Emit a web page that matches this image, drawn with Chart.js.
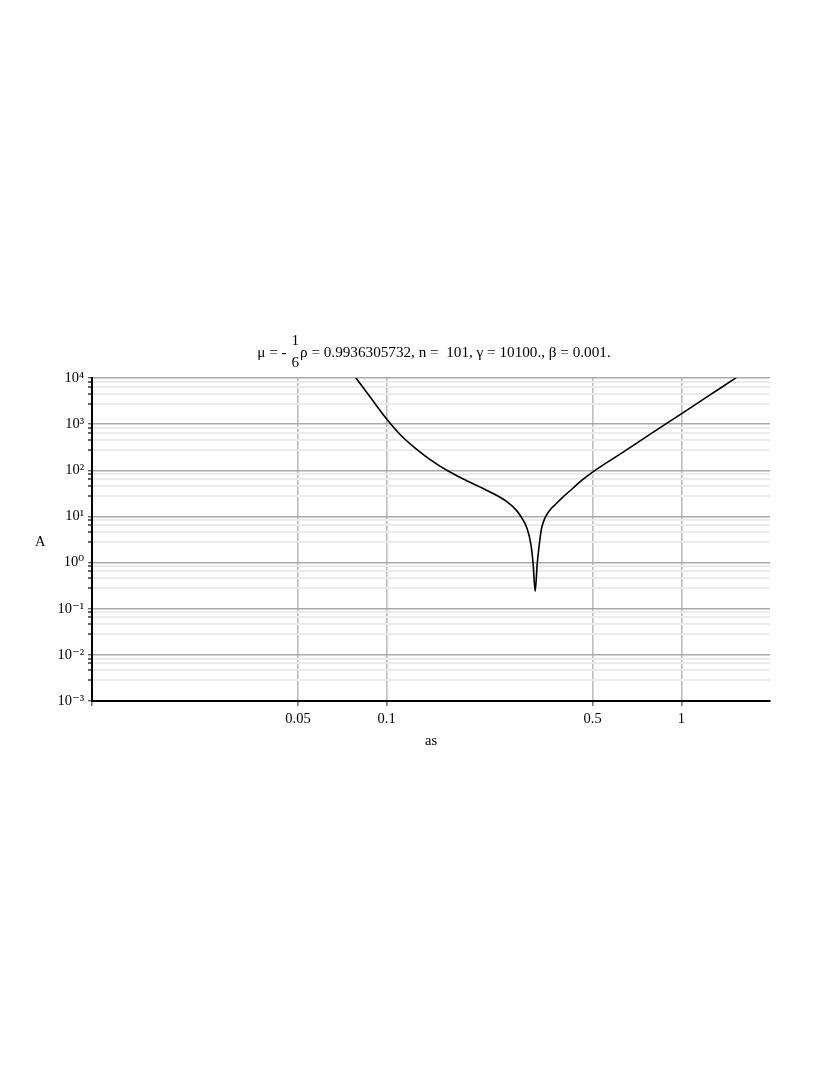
<!DOCTYPE html>
<html>
<head>
<meta charset="utf-8">
<script src="https://cdn.jsdelivr.net/npm/chart.js@4"></script>
<style>
  html, body { margin: 0; padding: 0; background: #fff; }
  body { width: 830px; height: 1075px; position: relative; overflow: hidden;
         font-family: "Liberation Serif", "DejaVu Serif", serif; color: #000; }
  #wrap { position: absolute; left: 0; top: 0; width: 830px; height: 1075px; }
  #title { position: absolute; left: 0; width: 868px; top: 332px; text-align: center;
           font-size: 15.2px; white-space: pre; line-height: 1; color: #000;
           will-change: transform; }
  .frac { display: inline-block; vertical-align: middle; text-align: center; line-height: 1.42;
          margin: 0 1px; position: relative; top: -3px; }
  .frac span { display: block; }
  #ylab { position: absolute; left: 35px; top: 533px; font-size: 14.5px; color: #000;
          will-change: transform; }
</style>
</head>
<body>
<div id="title">μ = - <span class="frac"><span>1</span><span>6</span></span>ρ = 0.9936305732, n =  101, γ = 10100., β = 0.001.</div>
<div id="ylab">A</div>
<div id="wrap"><canvas id="plot" width="830" height="1075"></canvas></div>

<script>
// values (as -> A), left branch down to the dip, then right branch
const asValues = [
    0.0700, 0.0787, 0.0869, 0.100, 0.1117, 0.1250, 0.1413, 0.160, 0.182, 0.207,
    0.2307, 0.2559, 0.2767, 0.2880, 0.2992, 0.3090, 0.3141, 0.3192,
    0.3243, 0.3289, 0.3350, 0.3404, 0.3467, 0.3589, 0.3715, 0.398, 0.4266, 0.457, 0.500,
    0.631, 0.794, 1.000, 1.259, 1.540, 1.778
];
const aValues = [
    27500, 10000, 4270, 1290, 575, 302, 166, 100, 64.6, 43.7,
    30.9, 20.9, 13.2, 9.1, 5.62, 2.40, 0.955, 0.24,
    0.933, 2.19, 5.25, 7.6, 10.0, 14.0, 17.4, 26.9, 39.8, 58.9, 91.2,
    242, 637, 1675, 4405, 10280, 18600
];

const xTickValues = [0.01, 0.05, 0.1, 0.5, 1];
const xTickLabels = ['', '0.05', '0.1', '0.5', '1'];
const yDecades = [-3, -2, -1, 0, 1, 2, 3, 4];
const yDecadeLabels = ['10⁻³', '10⁻²', '10⁻¹', '10⁰', '10¹', '10²', '10³', '10⁴'];
const yMinorSteps = [2.8, 4.6, 6.5, 8.3];

const serif = '"Liberation Serif", "DejaVu Serif", serif';

document.addEventListener('DOMContentLoaded', function() {
    const canvasElement = document.getElementById('plot');

    const points = asValues.map(function(x, i) { return { x: x, y: aValues[i] }; });

    // y ticks: decades plus the light minor lines
    const yTicks = [];
    yDecades.forEach(function(d) {
        yTicks.push(Math.pow(10, d));
        if (d < 4) {
            yMinorSteps.forEach(function(m) { yTicks.push(m * Math.pow(10, d)); });
        }
    });
    yTicks.sort(function(a, b) { return a - b; });

    function yLabel(value) {
        const d = Math.round(Math.log10(value));
        if (Math.abs(value - Math.pow(10, d)) > 1e-9 * Math.pow(10, d)) return '';
        const idx = yDecades.indexOf(d);
        return idx >= 0 ? yDecadeLabels[idx] : '';
    }

    new Chart(canvasElement, {
        type: 'line',
        data: {
            datasets: [{
                data: points,
                borderColor: '#000',
                borderWidth: 1.6,
                pointRadius: 0,
                cubicInterpolationMode: 'monotone',
                fill: false
            }]
        },
        options: {
            responsive: false,
            animation: false,
            layout: { padding: { left: 0, right: 60, top: 378, bottom: 314 } },
            plugins: { legend: { display: false }, tooltip: { enabled: false } },
            scales: {
                x: {
                    type: 'logarithmic',
                    min: 0.01,
                    max: 2,
                    afterBuildTicks: function(scale) {
                        scale.ticks = xTickValues.map(function(v) { return { value: v }; });
                    },
                    afterFit: function(scale) { scale.height = 60; },
                    ticks: {
                        autoSkip: false,
                        maxRotation: 0,
                        padding: 4,
                        color: '#000',
                        font: { family: serif, size: 14.5 },
                        callback: function(value) {
                            const idx = xTickValues.indexOf(value);
                            return idx >= 0 ? xTickLabels[idx] : '';
                        }
                    },
                    grid: {
                        color: function(ctx) { return ctx.index === 0 ? 'rgba(0,0,0,0)' : '#bdbdbd'; },
                        lineWidth: 1.6,
                        tickColor: '#777',
                        tickLength: 5
                    },
                    border: { display: true, color: '#000', width: 2 },
                    title: {
                        display: true,
                        text: 'as',
                        color: '#000',
                        font: { family: serif, size: 14.5 },
                        padding: { top: 0, bottom: 11 }
                    }
                },
                y: {
                    type: 'logarithmic',
                    min: 0.001,
                    max: 10000,
                    afterBuildTicks: function(scale) {
                        scale.ticks = yTicks.map(function(v) { return { value: v }; });
                    },
                    afterFit: function(scale) { scale.width = 92; },
                    ticks: {
                        autoSkip: false,
                        padding: 4,
                        color: '#000',
                        font: { family: serif, size: 14.5 },
                        callback: function(value) { return yLabel(value); }
                    },
                    grid: {
                        color: function(ctx) {
                            const v = ctx.tick ? ctx.tick.value : 0;
                            return yLabel(v) ? '#a9a9a9' : '#ebebeb';
                        },
                        lineWidth: function(ctx) {
                            const v = ctx.tick ? ctx.tick.value : 0;
                            return yLabel(v) ? 1.4 : 2;
                        },
                        tickColor: '#666',
                        tickLength: 4
                    },
                    border: { display: true, color: '#000', width: 2 }
                }
            }
        }
    });
});
</script>
</body>
</html>
